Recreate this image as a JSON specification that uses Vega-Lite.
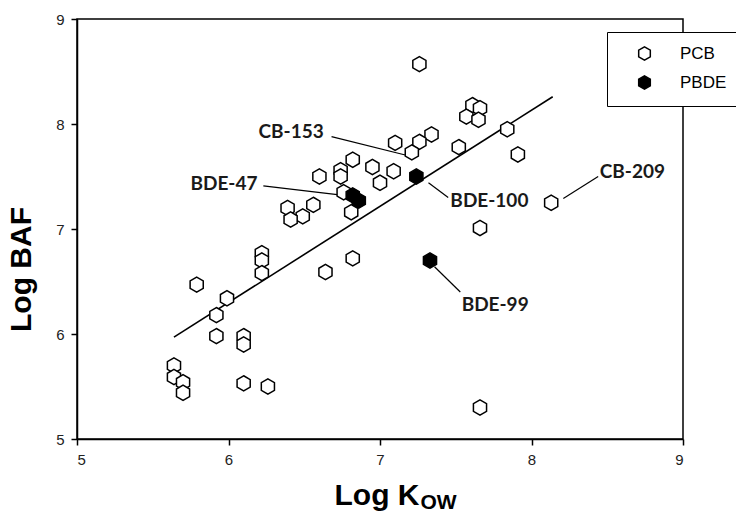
{
  "$schema": "https://vega.github.io/schema/vega-lite/v6.json",
  "width": 606,
  "height": 420,
  "autosize": {"type": "none"},
  "padding": {"left": 77, "top": 19, "right": 53, "bottom": 75},
  "background": "white",
  "config": {
    "view": {"stroke": "black", "strokeWidth": 1.5},
    "font": "Liberation Sans"
  },
  "datasets": {
    "pts": [
      {"kow": 7.10, "baf": 7.82, "type": "PCB"},
      {"kow": 6.82, "baf": 7.66, "type": "PCB"},
      {"kow": 6.95, "baf": 7.59, "type": "PCB"},
      {"kow": 7.09, "baf": 7.55, "type": "PCB"},
      {"kow": 6.74, "baf": 7.56, "type": "PCB"},
      {"kow": 6.74, "baf": 7.50, "type": "PCB"},
      {"kow": 6.60, "baf": 7.50, "type": "PCB"},
      {"kow": 7.00, "baf": 7.44, "type": "PCB"},
      {"kow": 6.76, "baf": 7.35, "type": "PCB"},
      {"kow": 6.81, "baf": 7.16, "type": "PCB"},
      {"kow": 6.39, "baf": 7.20, "type": "PCB"},
      {"kow": 6.56, "baf": 7.23, "type": "PCB"},
      {"kow": 6.49, "baf": 7.12, "type": "PCB"},
      {"kow": 6.41, "baf": 7.09, "type": "PCB"},
      {"kow": 7.26, "baf": 8.57, "type": "PCB"},
      {"kow": 7.61, "baf": 8.18, "type": "PCB"},
      {"kow": 7.66, "baf": 8.15, "type": "PCB"},
      {"kow": 7.57, "baf": 8.07, "type": "PCB"},
      {"kow": 7.65, "baf": 8.04, "type": "PCB"},
      {"kow": 7.34, "baf": 7.90, "type": "PCB"},
      {"kow": 7.26, "baf": 7.83, "type": "PCB"},
      {"kow": 7.21, "baf": 7.73, "type": "PCB"},
      {"kow": 7.52, "baf": 7.78, "type": "PCB"},
      {"kow": 7.84, "baf": 7.95, "type": "PCB"},
      {"kow": 7.91, "baf": 7.71, "type": "PCB"},
      {"kow": 8.13, "baf": 7.25, "type": "PCB"},
      {"kow": 7.66, "baf": 7.01, "type": "PCB"},
      {"kow": 6.22, "baf": 6.77, "type": "PCB"},
      {"kow": 6.22, "baf": 6.70, "type": "PCB"},
      {"kow": 6.22, "baf": 6.58, "type": "PCB"},
      {"kow": 5.79, "baf": 6.47, "type": "PCB"},
      {"kow": 5.99, "baf": 6.34, "type": "PCB"},
      {"kow": 5.92, "baf": 6.18, "type": "PCB"},
      {"kow": 5.92, "baf": 5.98, "type": "PCB"},
      {"kow": 6.10, "baf": 5.98, "type": "PCB"},
      {"kow": 6.10, "baf": 5.90, "type": "PCB"},
      {"kow": 6.64, "baf": 6.59, "type": "PCB"},
      {"kow": 6.82, "baf": 6.72, "type": "PCB"},
      {"kow": 5.64, "baf": 5.70, "type": "PCB"},
      {"kow": 5.64, "baf": 5.59, "type": "PCB"},
      {"kow": 5.70, "baf": 5.54, "type": "PCB"},
      {"kow": 5.70, "baf": 5.44, "type": "PCB"},
      {"kow": 6.10, "baf": 5.53, "type": "PCB"},
      {"kow": 6.26, "baf": 5.50, "type": "PCB"},
      {"kow": 7.66, "baf": 5.30, "type": "PCB"},
      {"kow": 6.82, "baf": 7.32, "type": "PBDE"},
      {"kow": 6.86, "baf": 7.27, "type": "PBDE"},
      {"kow": 7.24, "baf": 7.50, "type": "PBDE"},
      {"kow": 7.33, "baf": 6.70, "type": "PBDE"}
    ],
    "fit": [
      {"kow": 5.64, "baf": 5.97},
      {"kow": 8.14, "baf": 8.26}
    ],
    "notes": [
      {"name": "CB-153", "lx": 6.413, "ly": 7.924, "x1": 6.68, "y1": 7.88, "x2": 7.18, "y2": 7.70},
      {"name": "BDE-47", "lx": 5.970, "ly": 7.43, "x1": 6.23, "y1": 7.41, "x2": 6.76, "y2": 7.32},
      {"name": "BDE-100", "lx": 7.722, "ly": 7.264, "x1": 7.32, "y1": 7.44, "x2": 7.45, "y2": 7.30},
      {"name": "CB-209", "lx": 8.666, "ly": 7.546, "x1": 8.21, "y1": 7.29, "x2": 8.44, "y2": 7.50},
      {"name": "BDE-99", "lx": 7.760, "ly": 6.274, "x1": 7.36, "y1": 6.64, "x2": 7.53, "y2": 6.40}
    ],
    "sub": [
      {"text": "OW"}
    ]
  },
  "layer": [
    {
      "data": {"name": "fit"},
      "mark": {"type": "line", "color": "black", "strokeWidth": 1.6},
      "encoding": {
        "x": {"field": "kow", "type": "quantitative", "scale": {"domain": [5, 9], "nice": false, "zero": false},
          "axis": {"title": "Log K", "values": [5, 6, 7, 8, 9], "format": "d", "grid": false, "domainColor": "black", "domainWidth": 1.5,
            "tickColor": "black", "tickWidth": 1.5, "tickSize": 6, "labelFontSize": 15, "labelColor": "#222", "labelPadding": 7,
            "labelFont": "Liberation Sans", "titleFont": "Liberation Sans", "titleFontSize": 30, "titleFontWeight": "bold",
            "titleColor": "black", "titleX": 299.5, "titleY": 65, "titleBaseline": "alphabetic", "titleAnchor": "middle", "titleAlign": "center"}},
        "y": {"field": "baf", "type": "quantitative", "scale": {"domain": [5, 9], "nice": false, "zero": false},
          "axis": {"title": "Log BAF", "values": [5, 6, 7, 8, 9], "format": "d", "grid": false, "domainColor": "black", "domainWidth": 1.5,
            "tickColor": "black", "tickWidth": 1.5, "tickSize": 6, "labelFontSize": 15, "labelColor": "#222", "labelPadding": 7,
            "labelFont": "Liberation Sans", "titleFont": "Liberation Sans", "titleFontSize": 30, "titleFontWeight": "bold",
            "titleColor": "black", "titlePadding": 19, "titleY": 250}}
      }
    },
    {
      "data": {"name": "notes"},
      "mark": {"type": "rule", "color": "black", "strokeWidth": 1.2},
      "encoding": {
        "x": {"field": "x1", "type": "quantitative"},
        "y": {"field": "y1", "type": "quantitative"},
        "x2": {"field": "x2"},
        "y2": {"field": "y2"}
      }
    },
    {
      "data": {"name": "pts"},
      "mark": {"type": "point", "filled": true, "stroke": "black", "strokeWidth": 1.5, "opacity": 1, "size": 230,
        "shape": "M0,-1L0.866,-0.5L0.866,0.5L0,1L-0.866,0.5L-0.866,-0.5Z"},
      "encoding": {
        "x": {"field": "kow", "type": "quantitative"},
        "y": {"field": "baf", "type": "quantitative"},
        "order": {"field": "type", "sort": "descending"},
        "fill": {"field": "type", "type": "nominal",
          "scale": {"domain": ["PCB", "PBDE"], "range": ["white", "black"]},
          "legend": {"title": null, "orient": "none", "legendX": 530, "legendY": 13, "direction": "vertical",
            "strokeColor": "black", "fillColor": "white", "padding": 13,
            "symbolType": "M0,-1L0.866,-0.5L0.866,0.5L0,1L-0.866,0.5L-0.866,-0.5Z",
            "symbolSize": 180, "symbolStrokeColor": "black", "symbolStrokeWidth": 1.5, "symbolOffset": 16,
            "labelFontSize": 17, "labelFont": "Liberation Sans", "labelColor": "black", "labelOffset": 27, "rowPadding": 8}}
      }
    },
    {
      "data": {"name": "notes"},
      "mark": {"type": "text", "font": "Lato", "fontWeight": "bold", "fontSize": 19, "color": "#1a1a1a", "align": "center", "baseline": "middle"},
      "encoding": {
        "x": {"field": "lx", "type": "quantitative"},
        "y": {"field": "ly", "type": "quantitative"},
        "text": {"field": "name"}
      }
    },
    {
      "data": {"name": "sub"},
      "mark": {"type": "text", "font": "Liberation Sans", "fontWeight": "bold", "fontSize": 21, "color": "black", "align": "center", "baseline": "alphabetic", "clip": false},
      "encoding": {
        "x": {"datum": 7.386, "type": "quantitative"},
        "y": {"datum": 4.33, "type": "quantitative"},
        "text": {"field": "text"}
      }
    }
  ]
}
